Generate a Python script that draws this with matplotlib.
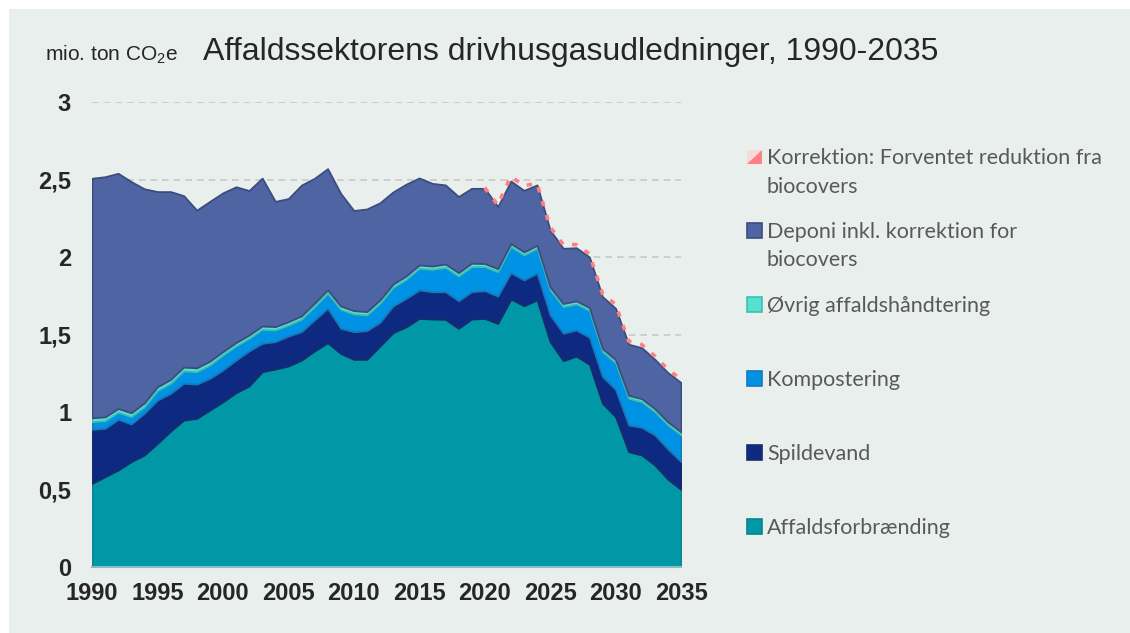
import numpy as np
import matplotlib
matplotlib.use("Agg")
import matplotlib.pyplot as plt
from matplotlib.patches import Rectangle, Polygon

plt.rcParams['font.family'] = ['Liberation Sans', 'DejaVu Sans']
plt.rcParams['mathtext.default'] = 'regular'

years = list(range(1990, 2036))

affaldsforbraending = [0.54, 0.583, 0.626, 0.68, 0.723, 0.798, 0.877, 0.948, 0.959, 1.013,
                       1.066, 1.125, 1.168, 1.26, 1.277, 1.297, 1.335, 1.394, 1.447, 1.378,
                       1.34, 1.34, 1.426, 1.512, 1.55, 1.604, 1.6, 1.598, 1.54, 1.6,
                       1.604, 1.572, 1.729, 1.686, 1.723, 1.454, 1.331, 1.361, 1.308, 1.056,
                       0.97, 0.744, 0.723, 0.658, 0.566, 0.501]
spildevand = [0.348, 0.312, 0.327, 0.243, 0.269, 0.279, 0.243, 0.237, 0.221, 0.204,
              0.205, 0.21, 0.226, 0.183, 0.177, 0.193, 0.183, 0.2, 0.222, 0.162,
              0.178, 0.185, 0.153, 0.172, 0.183, 0.183, 0.176, 0.178, 0.178, 0.176,
              0.179, 0.176, 0.17, 0.166, 0.172, 0.172, 0.177, 0.168, 0.174, 0.172,
              0.176, 0.172, 0.178, 0.194, 0.195, 0.179]
kompostering = [0.05, 0.049, 0.045, 0.047, 0.042, 0.061, 0.065, 0.08, 0.08, 0.086,
                0.097, 0.091, 0.081, 0.09, 0.075, 0.071, 0.08, 0.086, 0.097, 0.122,
                0.114, 0.101, 0.122, 0.12, 0.123, 0.14, 0.144, 0.157, 0.159, 0.162,
                0.155, 0.157, 0.168, 0.161, 0.161, 0.161, 0.172, 0.168, 0.172, 0.161,
                0.172, 0.172, 0.165, 0.15, 0.155, 0.172]
oevrig = [0.025] * 10 + [0.022] * 20 + [0.02] * 16
deponi = [1.545, 1.549, 1.517, 1.491, 1.381, 1.259, 1.212, 1.106, 1.017, 1.031,
          1.024, 1.005, 0.932, 0.954, 0.808, 0.794, 0.844, 0.806, 0.782, 0.726,
          0.646, 0.662, 0.627, 0.594, 0.592, 0.561, 0.533, 0.51, 0.491, 0.483,
          0.485, 0.4, 0.403, 0.397, 0.389, 0.367, 0.356, 0.343, 0.326, 0.335,
          0.331, 0.329, 0.329, 0.318, 0.318, 0.318]
korrektion = [0.0] * 30 + [0.005, 0.01, 0.03, 0.03, 0.01, 0.02, 0.025, 0.02, 0.02, 0.02,
                           0.025, 0.02, 0.02, 0.02, 0.022, 0.02]

series = [
    ("Affaldsforbrænding", affaldsforbraending, "#0098A6", "#0B8290"),
    ("Spildevand", spildevand, "#0E2A80", "#172C6A"),
    ("Kompostering", kompostering, "#0092E4", "#1A78B8"),
    ("Øvrig affaldshåndtering", oevrig, "#56E0D0", "#3DBFB0"),
    ("Deponi inkl. korrektion for\nbiocovers", deponi, "#4F64A2", "#3D4C7E"),
]
korr_label = "Korrektion: Forventet reduktion fra\nbiocovers"

W, H = 1130, 633
bg = "#E9EFED"

fig = plt.figure(figsize=(W / 100, H / 100), dpi=100, facecolor="white")
fig.patches.append(Rectangle((9 / W, 0), 1 - 9 / W, 1 - 9 / H, transform=fig.transFigure,
                             facecolor=bg, edgecolor="none", zorder=-5))

ax = fig.add_axes([92 / W, 1 - 567 / H, (681 - 92) / W, (567 - 102) / H])
ax.set_facecolor(bg)

x = np.array(years)
bottom = np.zeros(len(years))
for name, vals, fc, ec in series:
    top = bottom + np.array(vals)
    ax.fill_between(x, bottom, top, facecolor=fc, edgecolor=ec, linewidth=1.3, zorder=2)
    bottom = top

korr = np.array(korrektion)
korr_top = np.where(korr > 0, bottom + korr, np.nan)
ax.plot(x, korr_top, color="#FF8080", linewidth=2.6, linestyle=(0, (1.5, 2.5)), zorder=3)

ax.set_xlim(1990, 2035)
ax.set_ylim(0, 3)
yt = [0, 0.5, 1, 1.5, 2, 2.5, 3]
ax.set_yticks(yt)
ax.set_yticklabels([("%g" % v).replace(".", ",") for v in yt])
ax.set_xticks(range(1990, 2036, 5))
ax.tick_params(axis="both", length=0, labelsize=17, labelcolor="#262626")
ax.tick_params(axis="y", pad=15)
ax.tick_params(axis="x", pad=11)
for lab in ax.get_xticklabels() + ax.get_yticklabels():
    lab.set_fontweight("bold")
ax.grid(axis="y", color="#C8C8C8", linestyle=(0, (4, 3)), linewidth=1.2, zorder=1)
ax.set_axisbelow(True)
for s in ["top", "right", "left"]:
    ax.spines[s].set_visible(False)
ax.spines["bottom"].set_color("#86BCC4")
ax.spines["bottom"].set_linewidth(1.5)
ax.spines["bottom"].set_zorder(4)

fig.text(571 / W, 1 - 60 / H, "Affaldssektorens drivhusgasudledninger, 1990-2035",
         fontsize=23, color="#262626", ha="center", va="baseline")
fig.text(45 / W, 1 - 61 / H, "mio. ton CO$_2$e", fontsize=15, color="#262626",
         ha="left", va="baseline")

# legend, drawn by hand so the marker sits on the first text line
legend_items = [(korr_label, None, None)] + [(n, fc, ec) for n, v, fc, ec in series[::-1]]
y0, step, line_h = 157, 73.8, 28
for i, (name, fc, ec) in enumerate(legend_items):
    yc = y0 + i * step
    mx0, mx1 = 747, 762
    if fc is None:
        fig.patches.append(Rectangle((mx0 / W, 1 - (yc + 7) / H), 15 / W, 14 / H,
                                     transform=fig.transFigure, facecolor="#F8DADA",
                                     edgecolor="none"))
        fig.patches.append(Polygon([(mx0 / W, 1 - (yc + 7) / H), (mx1 / W, 1 - (yc + 7) / H),
                                    (mx1 / W, 1 - (yc - 7) / H)],
                                   closed=True, transform=fig.transFigure,
                                   facecolor="#FF8080", edgecolor="none"))
    else:
        fig.patches.append(Rectangle((mx0 / W, 1 - (yc + 7.5) / H), 15 / W, 15 / H,
                                     transform=fig.transFigure, facecolor=fc,
                                     edgecolor=ec, linewidth=1.2))
    for j, line in enumerate(name.split("\n")):
        fig.text(767 / W, 1 - (yc + 7.5 + j * line_h) / H, line, fontsize=15.5,
                 color="#595959", family=["Lato", "DejaVu Sans"], ha="left", va="baseline")

fig.savefig("out.png", dpi=100, facecolor="white")
